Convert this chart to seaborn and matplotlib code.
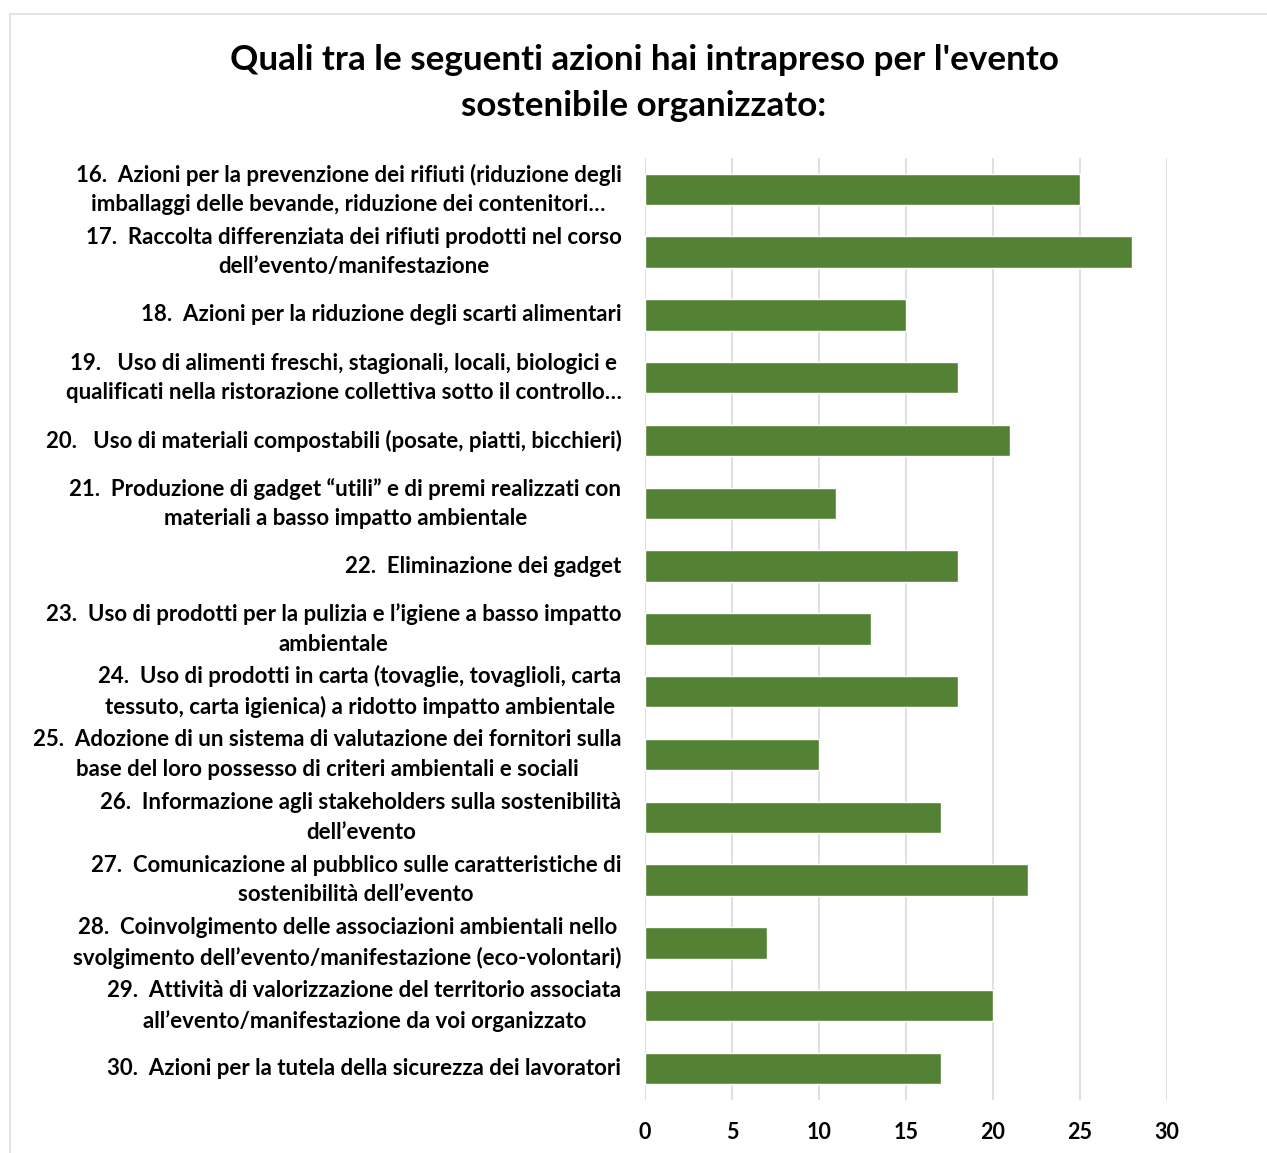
import matplotlib
matplotlib.use('Agg')
import matplotlib.pyplot as plt
import seaborn as sns
import pandas as pd
from matplotlib.patches import Rectangle

# 数据
labels = [
    "16.  Azioni per la prevenzione dei rifiuti (riduzione degli\nimballaggi delle bevande, riduzione dei contenitori…",
    "17.  Raccolta differenziata dei rifiuti prodotti nel corso\ndell’evento/manifestazione",
    "18.  Azioni per la riduzione degli scarti alimentari",
    "19.   Uso di alimenti freschi, stagionali, locali, biologici e\nqualificati nella ristorazione collettiva sotto il controllo…",
    "20.   Uso di materiali compostabili (posate, piatti, bicchieri)",
    "21.  Produzione di gadget “utili” e di premi realizzati con\nmateriali a basso impatto ambientale",
    "22.  Eliminazione dei gadget",
    "23.  Uso di prodotti per la pulizia e l’igiene a basso impatto\nambientale",
    "24.  Uso di prodotti in carta (tovaglie, tovaglioli, carta\ntessuto, carta igienica) a ridotto impatto ambientale",
    "25.  Adozione di un sistema di valutazione dei fornitori sulla\nbase del loro possesso di criteri ambientali e sociali",
    "26.  Informazione agli stakeholders sulla sostenibilità\ndell’evento",
    "27.  Comunicazione al pubblico sulle caratteristiche di\nsostenibilità dell’evento",
    "28.  Coinvolgimento delle associazioni ambientali nello\nsvolgimento dell’evento/manifestazione (eco-volontari)",
    "29.  Attività di valorizzazione del territorio associata\nall’evento/manifestazione da voi organizzato",
    "30.  Azioni per la tutela della sicurezza dei lavoratori",
]
values = [25, 28, 15, 18, 21, 11, 18, 13, 18, 10, 17, 22, 7, 20, 17]
x_ticks = [0, 5, 10, 15, 20, 25, 30]
title = "Quali tra le seguenti azioni hai intrapreso per l'evento\nsostenibile organizzato:"

sns.set_theme(style='white')
plt.rcParams['font.family'] = ['Lato', 'DejaVu Sans']

df = pd.DataFrame({'azione': labels, 'n': values})

fig = plt.figure(figsize=(12.67, 11.53), dpi=100)
ax = fig.add_axes([645 / 1267, 1 - 1100 / 1153, 522 / 1267, 942 / 1153])

# 图表外框
fig.patches.append(Rectangle((10 / 1267, -0.1), 1.2, 1 - 14 / 1153 + 0.1,
                             transform=fig.transFigure, fill=False,
                             edgecolor='#D9DDE2', linewidth=1.2, zorder=0))

sns.barplot(data=df, x='n', y='azione', color='#548235', saturation=1,
            width=0.5, ax=ax, zorder=3)

ax.set_xlim(0, 30)
ax.set_ylim(14.5, -0.5)
ax.set_xticks(x_ticks)
ax.xaxis.grid(True, color='#D9DEE5', linewidth=1.3, zorder=0)
ax.yaxis.grid(False)
for s in ax.spines.values():
    s.set_visible(False)
ax.axvline(0, color='#D9DEE5', linewidth=1.3, zorder=1)
ax.set_xlabel('')
ax.set_ylabel('')
ax.tick_params(axis='y', length=0, pad=17, labelsize=16)
ax.tick_params(axis='x', length=0, pad=16, labelsize=15.5)
for lab in ax.get_yticklabels():
    lab.set_fontweight('bold')
    lab.set_multialignment('center')
    lab.set_verticalalignment('center')
    lab.set_linespacing(1.5)
    lab.set_color('black')
for lab in ax.get_xticklabels():
    lab.set_fontweight('bold')
    lab.set_color('black')

fig.text(644 / 1267, 1 - 83 / 1153, title, ha='center', va='center',
         fontsize=25.2, fontweight='bold', linespacing=1.55, color='black')

fig.savefig('out.png', dpi=100)
